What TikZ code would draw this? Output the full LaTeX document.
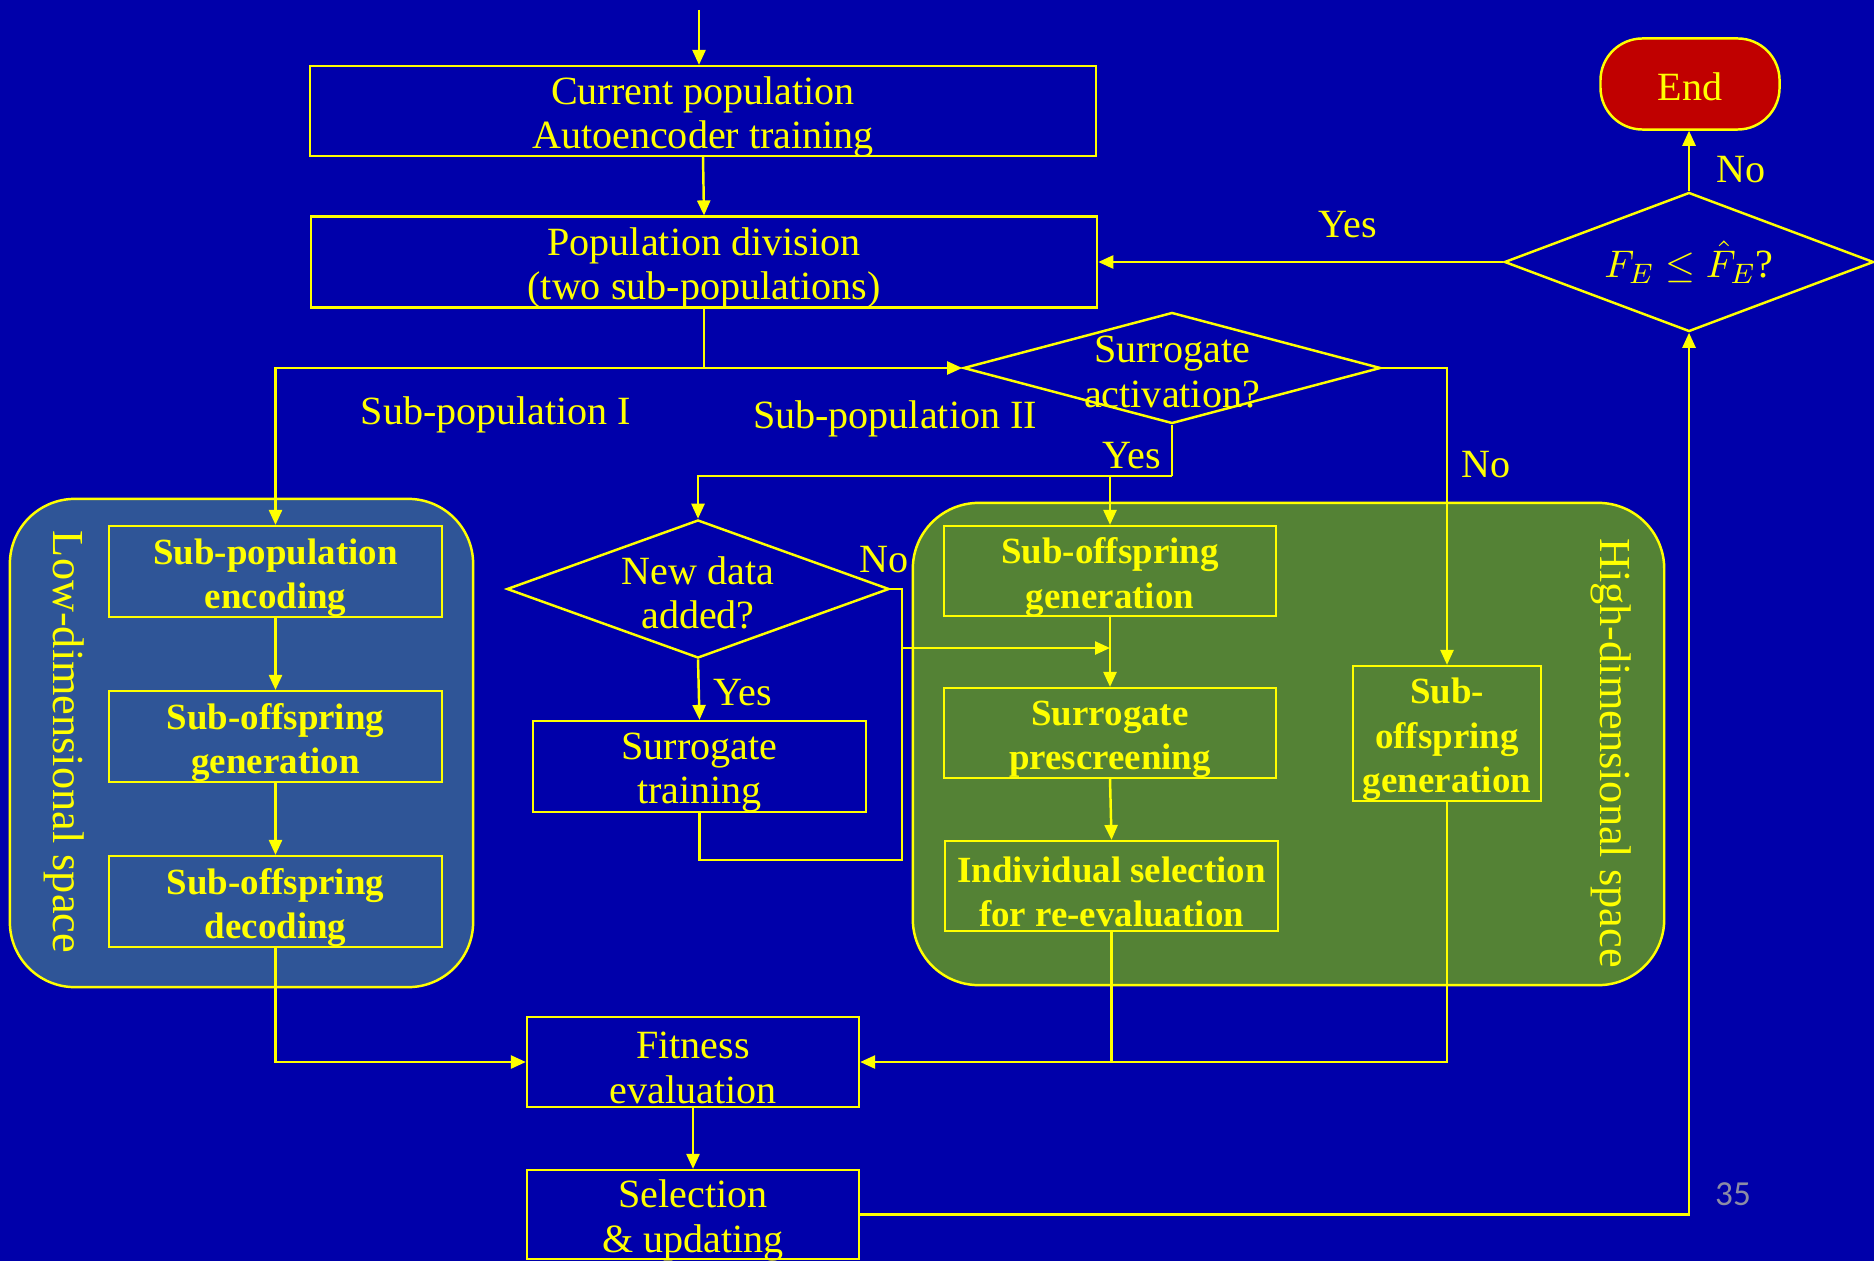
\documentclass[tikz,border=0pt]{standalone}
\usepackage{fontspec}
\setmainfont{Liberation Serif}
\usetikzlibrary{shapes.geometric,arrows.meta}
\definecolor{bg}{RGB}{0,0,170}
\definecolor{lowfill}{RGB}{47,85,151}
\definecolor{highfill}{RGB}{84,130,53}
\definecolor{endfill}{RGB}{192,0,0}
\definecolor{ylw}{RGB}{255,255,0}
\definecolor{pagenum}{RGB}{140,140,165}
\begin{document}
\begin{tikzpicture}[x=0.01cm,y=-0.01cm,
  every node/.style={text=ylw, font=\fontsize{11.4}{12.6}\selectfont},
  % box captions sit a little below the geometric centre
  boxtxt/.style={label={[align=center, yshift=-0.06cm, font=\fontsize{11.4}{12.6}\selectfont]center:#1}},
  boldtxt/.style={label={[align=center, yshift=-0.06cm, font=\fontsize{10.5}{12.6}\selectfont\bfseries]center:#1}},
  plainbox/.style={draw=ylw, line width=0.6pt, rectangle, inner sep=0pt},
  lowbox/.style={plainbox, fill=lowfill},
  highbox/.style={plainbox, fill=highfill},
  decision/.style={diamond, draw=ylw, line width=0.7pt, inner sep=0pt},
  qtext/.style={align=center, yshift=-0.04cm},
  region/.style={draw=ylw, line width=0.7pt, rectangle, inner sep=0pt},
  regiontitle/.style={rotate=-90, font=\fontsize{12.6}{14}\selectfont},
  flow/.style={draw=ylw, line width=0.7pt},
  arr/.style={flow, -{Triangle[length=0.15cm,width=0.13cm]}},
]
% page
\fill[bg] (0,0) rectangle (1874,1261);
\useasboundingbox (0,0) rectangle (1874,1261);

% shaded regions
\node[region, fill=lowfill, rounded corners=0.65cm, minimum width=4.63cm, minimum height=4.88cm] (lowc) at (241.5,743) {};
\node[regiontitle] (lowt) at (64,742) {Low-dimensional space};
\node[region, fill=highfill, rounded corners=0.66cm, minimum width=7.51cm, minimum height=4.82cm] (highc) at (1288.5,744) {};
\node[regiontitle] (hight) at (1611,753) {High-dimensional space};

% main column
\coordinate (start) at (699,10);
\node[plainbox, minimum width=7.86cm, minimum height=0.90cm,
      boxtxt={Current population\\Autoencoder training}] (box1) at (703,111) {};
\node[plainbox, minimum width=7.86cm, minimum height=0.91cm,
      boxtxt={Population division\\(two sub-populations)}] (box2) at (704,262) {};
\node[decision, minimum width=4.17cm, minimum height=1.11cm] (act) at (1172,368) {};
\node[qtext] (actq) at (act.center) {Surrogate\\activation?};
\node[decision, minimum width=3.69cm, minimum height=1.39cm] (fe) at (1689,262) {};
\node (feq) at (fe.center) {$F_E \le \hat{F}_E$?};
\node[draw=ylw, line width=0.7pt, fill=endfill, rounded corners=0.42cm, minimum width=1.79cm, minimum height=0.91cm, inner sep=0pt] (stop) at (1690,84) {};
\node (stopq) at ([yshift=-0.03cm]stop.center) {End};

% low-dimensional steps
\node[lowbox, minimum width=3.33cm, minimum height=0.91cm, boldtxt={Sub-population\\encoding}] (enc) at (275.5,571.5) {};
\node[lowbox, minimum width=3.33cm, minimum height=0.91cm, boldtxt={Sub-offspring\\generation}] (gen) at (275.5,736.5) {};
\node[lowbox, minimum width=3.33cm, minimum height=0.91cm, boldtxt={Sub-offspring\\decoding}] (dec) at (275.5,901.5) {};

% surrogate management
\node[decision, minimum width=3.82cm, minimum height=1.38cm] (newdata) at (698,589) {};
\node[qtext] (newdataq) at (newdata.center) {New data\\added?};
\node[plainbox, minimum width=3.33cm, minimum height=0.91cm, boxtxt={Surrogate\\training}] (strain) at (699.5,766.5) {};

% high-dimensional steps
\node[highbox, minimum width=3.32cm, minimum height=0.90cm, boldtxt={Sub-offspring\\generation}] (hgen) at (1110,571) {};
\node[highbox, minimum width=3.32cm, minimum height=0.90cm, boldtxt={Surrogate\\prescreening}] (pres) at (1110,733) {};
\node[highbox, minimum width=3.33cm, minimum height=0.90cm, boldtxt={Individual selection\\for re-evaluation}] (isel) at (1111.5,886) {};
\node[highbox, minimum width=1.88cm, minimum height=1.35cm, boldtxt={Sub-\\offspring\\generation}] (rgen) at (1447,733.5) {};

% evaluation and update
\node[plainbox, minimum width=3.32cm, minimum height=0.90cm, boxtxt={Fitness\\evaluation}] (fit) at (693,1062) {};
\node[plainbox, minimum width=3.32cm, minimum height=0.89cm, boxtxt={Selection\\\& updating}] (sel) at (693,1214.5) {};

% branch labels
\node (lsub1) at (496,415) {Sub-population I};
\node (lsub2) at (895,419) {Sub-population II};
\node (lyes1) at (1132,456) {Yes};
\node (lno1) at (1486,465) {No};
\node (lyes2) at (1348,225) {Yes};
\node (lno2) at (1741,170) {No};
\node (lyes3) at (743,693) {Yes};
\node (lno3) at (884,560) {No};
\node[text=pagenum, font=\fontsize{10}{12}\fontspec{Carlito}] (pnum) at (1733,1194) {35};

% connectors
\draw[arr] (start) -- (start |- box1.north);
\draw[arr] (box1.south) -- (box2.north);
\coordinate (split) at (box2.south |- act.west);
\draw[flow] (box2.south) -- (split);
\draw[arr] (split) -| (enc.north);
\draw[arr] (split) -- (act.west);

\coordinate (yfork) at (1172,476);
\draw[flow] (act.south) -- (yfork);
\draw[arr] (yfork) -| (newdata.north);
\draw[arr] (hgen.north |- yfork) -- (hgen.north);
\draw[arr] (act.east) -| (rgen.north);

\draw[arr] (enc.south) -- (gen.north);
\draw[arr] (gen.south) -- (dec.north);

\draw[arr] (newdata.south) -- (strain.north);
\coordinate (nr) at (902,589);
\coordinate (lb) at (902,860);
\coordinate (mj) at (902,648);
\draw[flow] (newdata.east) -- (nr) -- (lb) -- (lb -| strain.south) -- (strain.south);
\draw[arr] (mj) -- (mj -| hgen.south);

\draw[arr] (hgen.south) -- (pres.north);
\draw[arr] (pres.south) -- (isel.north);

\draw[arr] (dec.south) |- (fit.west);
\coordinate (rj) at (isel.south |- fit.east);
\draw[arr] (isel.south) -- (rj) -- (fit.east);
\draw[flow] (rgen.south) |- (rj);

\draw[arr] (fit.south) -- (sel.north);
\draw[arr] (sel.east) -| (fe.south);
\draw[arr] (fe.west) -- (box2.east);
\draw[arr] (fe.north) -- (fe.north |- stop.south);
\end{tikzpicture}
\end{document}
